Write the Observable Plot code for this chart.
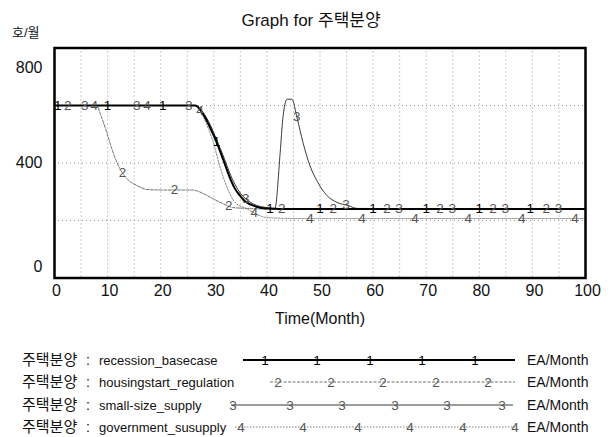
<!DOCTYPE html>
<html>
<head>
<meta charset="utf-8">
<script src="https://cdn.jsdelivr.net/npm/d3@7"></script>
<script src="https://cdn.jsdelivr.net/npm/@observablehq/plot@0.6"></script>
<style>
  html, body { margin: 0; padding: 0; background: #fff; }
  #wrap { position: relative; width: 611px; height: 437px; overflow: hidden;
          font-family: "Liberation Sans", Arial, "Noto Sans CJK KR", sans-serif; color: #111; }
  #title { position: absolute; top: 6px; left: 0; width: 622px; text-align: center; font-size: 17px; }
  #unit { position: absolute; top: 22px; left: 12px; font-size: 13px; }
  #chart { position: absolute; top: 0; left: 0; }
  #legend { position: absolute; top: 340px; left: 0; }
</style>
</head>
<body>
<div id="wrap">
  <div id="chart"></div>
  <div id="title">Graph for 주택분양</div>
  <div id="unit">호/월</div>
  <div id="legend"></div>
</div>
<script>
// ---------- data ----------
const variableName = "주택분양";
const unitLabel = "EA/Month";
const yUnit = "호/월";
const seriesNames = ["recession_basecase", "housingstart_regulation", "small-size_supply", "government_susupply"];

const t1 = [0, 26.5, 28, 29, 30, 31, 32, 33, 34, 35, 36, 37, 38, 40, 45, 100];
const v1 = [600, 600, 570, 535, 495, 450, 400, 350, 310, 285, 265, 255, 248, 242, 240, 240];

const t2 = [0, 8, 8.6, 9.9, 11.1, 12.3, 13.6, 15.5, 17.4, 20, 26, 28, 29.8, 31.7, 33.6, 36.3, 40, 100];
const v2 = [600, 600, 572, 503, 433, 381, 346, 322, 308, 306, 306, 294, 276, 259, 245, 242, 240, 240];

const t3 = [0, 26.5, 28, 29, 30, 31, 32, 33, 34, 35, 36, 37, 38, 40, 41.5, 42.5, 43, 43.8, 44.7, 45.7, 46.8, 48.1, 49.4, 51.3, 53.2, 55.3, 57, 100];
const v3 = [600, 600, 575, 545, 505, 460, 415, 365, 325, 295, 275, 262, 253, 245, 242, 436, 555, 622, 622, 555, 471, 391, 339, 287, 263, 252, 242, 240];

const t4 = [0, 26.5, 27.4, 28.9, 29.8, 31.2, 32.5, 34, 36.3, 38, 40, 45, 100];
const v4 = [600, 600, 582, 523, 478, 384, 315, 263, 240, 222, 210, 207, 207];

// curve-number label times
const lab1 = [0.6, 10, 20.4, 30.5, 40.6, 50, 60, 70, 80, 89.6];
const lab2 = [2.5, 12.8, 22.6, 32.8, 42.8, 52.5, 62.6, 72.6, 82.6, 92.6];
const lab3 = [5.7, 15.5, 25.3, 36, 45.6, 54.9, 64.9, 74.9, 84.9, 94.9];
const lab4 = [7.5, 17.4, 27.4, 37.6, 48.1, 57.9, 67.9, 77.9, 88, 98];

const xTicks = [0, 10, 20, 30, 40, 50, 60, 70, 80, 90, 100];
const yTicks = [0, 400, 800];
const xGrid = [5, 10, 15, 20, 25, 30, 35, 40, 45, 50, 55, 60, 65, 70, 75, 80, 85, 90, 95];
const yGrid = [200, 400, 600];

// ---------- build ----------
const colors = ["#000", "#707070", "#3a3a3a", "#808080"];
const widths = [2, 1, 1, 1];
const dashes = [null, "3,1.5", null, "1.5,1.5"];
const T = [t1, t2, t3, t4], V = [v1, v2, v3, v4], L = [lab1, lab2, lab3, lab4];

const rows = [];
T.forEach((ts, i) => ts.forEach((t, j) => rows.push({ s: i, t, v: V[i][j] })));

// position of each curve number on its own line
function onLine(ts, vs, t) {
  const k = d3.bisectRight(ts, t);
  if (k <= 0) return vs[0];
  if (k >= ts.length) return vs[vs.length - 1];
  const a = ts[k - 1], b = ts[k];
  return vs[k - 1] + (vs[k] - vs[k - 1]) * (t - a) / (b - a);
}
const labels = [];
L.forEach((ls, i) => ls.forEach(t => labels.push({ s: i, t, v: onLine(T[i], V[i], t), text: String(i + 1) })));

const font = '"Liberation Sans", Arial, "Noto Sans CJK KR", sans-serif';

const marks = [
  Plot.ruleX(xGrid, { x: d => d, stroke: "#9a9a9a", strokeDasharray: "1,3" }),
  Plot.ruleY(yGrid, { y: d => d, stroke: "#9a9a9a", strokeDasharray: "1,3" })
];
[3, 1, 2, 0].forEach(i => {
  marks.push(Plot.line(rows.filter(r => r.s === i), {
    x: "t", y: "v", stroke: colors[i], strokeWidth: widths[i],
    strokeDasharray: dashes[i], curve: "monotone-x"
  }));
});
[0, 1, 2, 3].forEach(i => {
  marks.push(Plot.text(labels.filter(r => r.s === i), {
    x: "t", y: "v", text: "text", fill: i === 0 ? "#000" : "#555", fontSize: 13.5
  }));
});
marks.push(
  Plot.frame({ stroke: "#000", strokeWidth: 2.5 }),
  Plot.text(xTicks, { x: d => d, frameAnchor: "bottom", dy: 18, dx: 2, fontSize: 16, fill: "#111" }),
  Plot.text(yTicks.filter(d => d === 800), { y: d => d, frameAnchor: "left", textAnchor: "end", dx: -12, dy: 20, fontSize: 16, fill: "#111" }),
  Plot.text(yTicks.filter(d => d === 400), { y: d => d, frameAnchor: "left", textAnchor: "end", dx: -12, dy: 0, fontSize: 16, fill: "#111" }),
  Plot.text(yTicks.filter(d => d === 0), { y: d => d, frameAnchor: "left", textAnchor: "end", dx: -12, dy: -11, fontSize: 16, fill: "#111" }),
  Plot.text(["Time(Month)"], { frameAnchor: "bottom", dy: 46, fontSize: 16, fill: "#111" })
);

const chart = Plot.plot({
  width: 611,
  height: 340,
  marginLeft: 54,
  marginRight: 26,
  marginTop: 47.5,
  marginBottom: 62.5,
  x: { domain: [0, 100], axis: null },
  y: { domain: [0, 800], axis: null },
  style: { fontFamily: font, background: "transparent", overflow: "visible" },
  marks
});
document.getElementById("chart").append(chart);

// ---------- legend ----------
const lg = d3.select("#legend").append("svg")
  .attr("width", 611).attr("height", 97)
  .style("font-family", font);
const rowY = [20, 42, 65, 87];
const lineX = [[243, 515], [270, 515], [231, 513], [235, 517]];
const markX = [
  [265, 317, 370, 422, 475],
  [278, 331, 383, 436, 488],
  [233, 290, 342, 395, 447, 502],
  [241, 303, 358, 410, 463, 515]
];
seriesNames.forEach((name, i) => {
  const g = lg.append("g").attr("transform", `translate(0,${rowY[i]})`);
  g.append("text").attr("x", 22).attr("y", 0).attr("dy", "0.35em").attr("font-size", 15).attr("fill", "#111").text(variableName);
  g.append("text").attr("x", 86).attr("y", 0).attr("dy", "0.35em").attr("font-size", 14).attr("fill", "#111").text(":");
  g.append("text").attr("x", 99).attr("y", 0).attr("dy", "0.35em").attr("font-size", 13).attr("fill", "#111").text(name);
  g.append("line").attr("x1", lineX[i][0]).attr("x2", lineX[i][1]).attr("y1", 0).attr("y2", 0)
    .attr("stroke", colors[i]).attr("stroke-width", widths[i])
    .attr("stroke-dasharray", dashes[i]);
  markX[i].forEach(x => g.append("text").attr("x", x).attr("y", 0).attr("dy", "0.35em")
    .attr("text-anchor", "middle").attr("font-size", 13.5).attr("fill", i === 0 ? "#000" : "#555").text(String(i + 1)));
  g.append("text").attr("x", 527).attr("y", 0).attr("dy", "0.35em").attr("font-size", 14).attr("fill", "#111").text(unitLabel);
});
</script>
</body>
</html>
